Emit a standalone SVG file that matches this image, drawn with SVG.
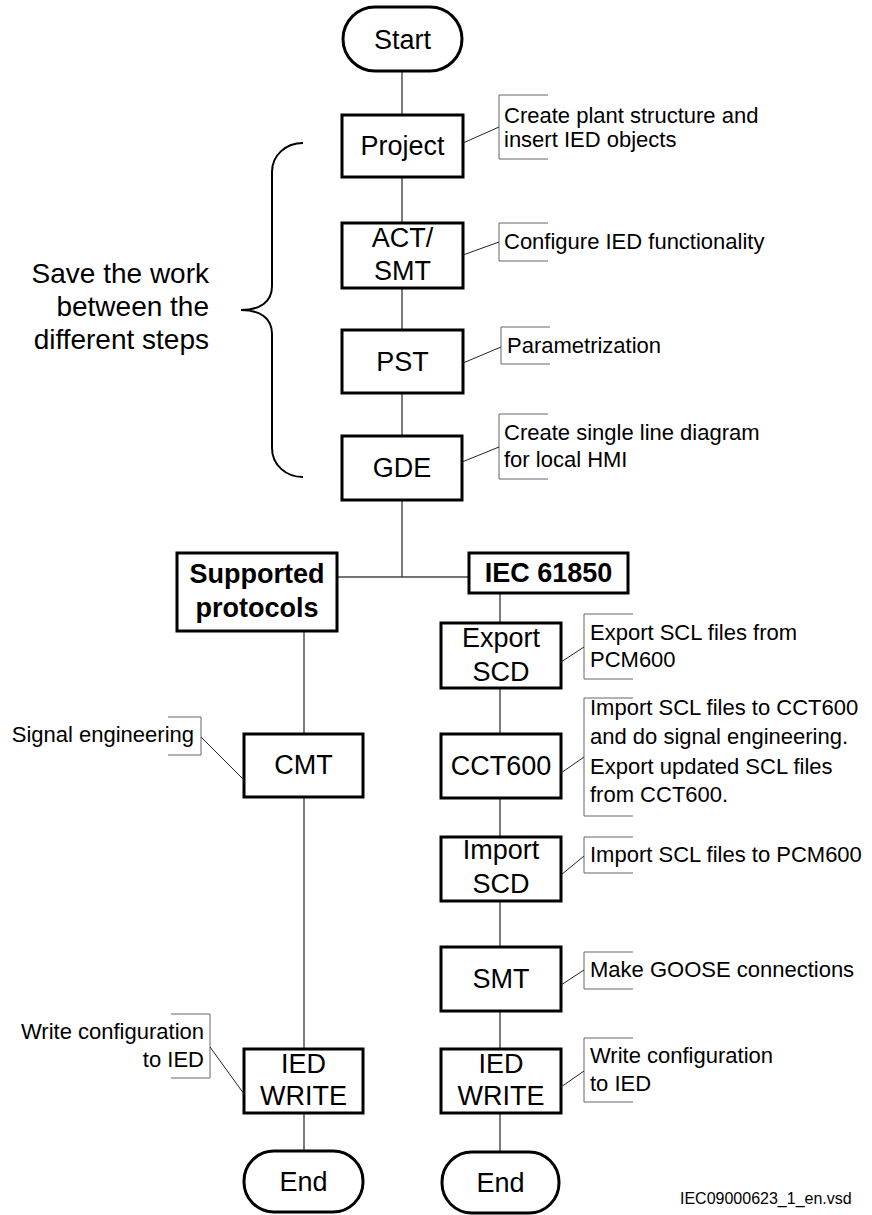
<svg xmlns="http://www.w3.org/2000/svg" width="872" height="1215" viewBox="0 0 872 1215">
<style>
.box{fill:#fff;stroke:#000;stroke-width:3}
.lbl{font-family:"Liberation Sans",Arial,sans-serif;font-size:27px;fill:#000;text-anchor:middle}
.bold{font-weight:bold}
.ann{font-family:"Liberation Sans",Arial,sans-serif;font-size:22px;fill:#000}
.conn{fill:none;stroke:#444;stroke-width:1.4}
.brk{fill:none;stroke:#666;stroke-width:1}
.lead{fill:none;stroke:#222;stroke-width:1}
.brace{fill:none;stroke:#000;stroke-width:2}
</style>
<rect width="872" height="1215" fill="#fff"/>
<g id="connectors">
<line class="conn" x1="402" y1="71" x2="402" y2="115"/>
<line class="conn" x1="402" y1="177" x2="402" y2="223"/>
<line class="conn" x1="402" y1="288" x2="402" y2="330"/>
<line class="conn" x1="402" y1="393" x2="402" y2="436"/>
<polyline class="conn" points="402,500 402,577"/>
<line class="conn" x1="337" y1="577" x2="469" y2="577"/>
<line class="conn" x1="304" y1="631" x2="304" y2="734"/>
<line class="conn" x1="304" y1="797" x2="304" y2="1049"/>
<line class="conn" x1="304" y1="1113" x2="304" y2="1151"/>
<line class="conn" x1="500" y1="593" x2="500" y2="623"/>
<line class="conn" x1="500" y1="688" x2="500" y2="734"/>
<line class="conn" x1="500" y1="798" x2="500" y2="837"/>
<line class="conn" x1="500" y1="901" x2="500" y2="947"/>
<line class="conn" x1="500" y1="1011" x2="500" y2="1049"/>
<line class="conn" x1="500" y1="1113" x2="500" y2="1152"/>
</g>
<g id="start">
<rect class="box" x="343" y="7" width="119" height="64" rx="32" ry="32"/>
<text class="lbl" x="402.5" y="49">Start</text>
</g>
<g id="project">
<rect class="box" x="342" y="115" width="121" height="62"/>
<text class="lbl" x="402.5" y="155">Project</text>
</g>
<g id="act-smt">
<rect class="box" x="342" y="223" width="121" height="65"/>
<text class="lbl" x="402.5" y="247">ACT/</text>
<text class="lbl" x="402.5" y="280">SMT</text>
</g>
<g id="pst">
<rect class="box" x="342" y="330" width="121" height="63"/>
<text class="lbl" x="402.5" y="371">PST</text>
</g>
<g id="gde">
<rect class="box" x="342" y="436" width="120" height="64"/>
<text class="lbl" x="402" y="477">GDE</text>
</g>
<g id="supported-protocols">
<rect class="box" x="177" y="553" width="160" height="78"/>
<text class="lbl bold" x="257" y="583">Supported</text>
<text class="lbl bold" x="257" y="617">protocols</text>
</g>
<g id="iec61850">
<rect class="box" x="469" y="553" width="159" height="40"/>
<text class="lbl bold" x="548.5" y="582">IEC 61850</text>
</g>
<g id="export-scd">
<rect class="box" x="441" y="623" width="120" height="65"/>
<text class="lbl" x="501" y="647">Export</text>
<text class="lbl" x="501" y="681">SCD</text>
</g>
<g id="cct600">
<rect class="box" x="441" y="734" width="120" height="64"/>
<text class="lbl" x="501" y="775">CCT600</text>
</g>
<g id="import-scd">
<rect class="box" x="441" y="837" width="120" height="64"/>
<text class="lbl" x="501" y="859">Import</text>
<text class="lbl" x="501" y="893">SCD</text>
</g>
<g id="smt">
<rect class="box" x="441" y="947" width="120" height="64"/>
<text class="lbl" x="501" y="988">SMT</text>
</g>
<g id="ied-write-right">
<rect class="box" x="441" y="1049" width="120" height="64"/>
<text class="lbl" x="501" y="1073">IED</text>
<text class="lbl" x="501" y="1105">WRITE</text>
</g>
<g id="end-right">
<rect class="box" x="442" y="1152" width="117" height="61" rx="30" ry="30"/>
<text class="lbl" x="500.5" y="1192">End</text>
</g>
<g id="cmt">
<rect class="box" x="244" y="734" width="119" height="63"/>
<text class="lbl" x="303.5" y="774">CMT</text>
</g>
<g id="ied-write-left">
<rect class="box" x="244" y="1049" width="119" height="64"/>
<text class="lbl" x="303.5" y="1073">IED</text>
<text class="lbl" x="303.5" y="1105">WRITE</text>
</g>
<g id="end-left">
<rect class="box" x="244" y="1151" width="119" height="61" rx="30" ry="30"/>
<text class="lbl" x="303.5" y="1191">End</text>
</g>
<g id="ann-project">
<path class="brk" d="M548,95 L499,95 L499,159 L548,159"/>
<line class="lead" x1="463" y1="143" x2="499" y2="127"/>
<text class="ann" x="504" y="123">Create plant structure and</text>
<text class="ann" x="504" y="147">insert IED objects</text>
</g>
<g id="ann-act">
<path class="brk" d="M548,223 L499,223 L499,261 L548,261"/>
<line class="lead" x1="463" y1="255" x2="499" y2="242"/>
<text class="ann" x="504" y="249">Configure IED functionality</text>
</g>
<g id="ann-pst">
<path class="brk" d="M550,327 L501,327 L501,364 L550,364"/>
<line class="lead" x1="463" y1="363" x2="501" y2="347"/>
<text class="ann" x="507" y="353">Parametrization</text>
</g>
<g id="ann-gde">
<path class="brk" d="M548,414 L499,414 L499,479 L548,479"/>
<line class="lead" x1="462" y1="462" x2="499" y2="447"/>
<text class="ann" x="504" y="440">Create single line diagram</text>
<text class="ann" x="504" y="467">for local HMI</text>
</g>
<g id="ann-export">
<path class="brk" d="M633,614 L584,614 L584,679 L633,679"/>
<line class="lead" x1="561" y1="662" x2="584" y2="647"/>
<text class="ann" x="590" y="640">Export SCL files from</text>
<text class="ann" x="590" y="667">PCM600</text>
</g>
<g id="ann-cct">
<path class="brk" d="M633,698 L584,698 L584,816 L633,816"/>
<line class="lead" x1="561" y1="773" x2="584" y2="757"/>
<text class="ann" x="590" y="715">Import SCL files to CCT600</text>
<text class="ann" x="590" y="744">and do signal engineering.</text>
<text class="ann" x="590" y="774">Export updated SCL files</text>
<text class="ann" x="590" y="802">from CCT600.</text>
</g>
<g id="ann-import">
<path class="brk" d="M633,837 L584,837 L584,873 L633,873"/>
<line class="lead" x1="561" y1="875" x2="584" y2="856"/>
<text class="ann" x="590" y="862">Import SCL files to PCM600</text>
</g>
<g id="ann-smt">
<path class="brk" d="M633,952 L584,952 L584,989 L633,989"/>
<line class="lead" x1="561" y1="985" x2="584" y2="970"/>
<text class="ann" x="590" y="977">Make GOOSE connections</text>
</g>
<g id="ann-write-right">
<path class="brk" d="M633,1038 L584,1038 L584,1102 L633,1102"/>
<line class="lead" x1="561" y1="1087" x2="584" y2="1071"/>
<text class="ann" x="590" y="1063">Write configuration</text>
<text class="ann" x="590" y="1091">to IED</text>
</g>
<g id="ann-cmt">
<path class="brk" d="M168,717 L201,717 L201,755 L168,755"/>
<line class="lead" x1="201" y1="737" x2="244" y2="780"/>
<text class="ann" x="194" y="742" text-anchor="end">Signal engineering</text>
</g>
<g id="ann-write-left">
<path class="brk" d="M171,1014 L210,1014 L210,1078 L171,1078"/>
<line class="lead" x1="210" y1="1047" x2="244" y2="1094"/>
<text class="ann" x="204" y="1039" text-anchor="end">Write configuration</text>
<text class="ann" x="204" y="1067" text-anchor="end">to IED</text>
</g>
<g id="save-note">
<path class="brace" d="M303,143 C286,143 272,155 272,172 L272,286 C272,302 260,310 241,310 C260,310 272,318 272,334 L272,448 C272,465 286,477 303,477"/>
<text class="lbl" style="text-anchor:end;font-size:28px" x="209" y="283">Save the work</text>
<text class="lbl" style="text-anchor:end;font-size:28px" x="209" y="316">between the</text>
<text class="lbl" style="text-anchor:end;font-size:28px" x="209" y="349">different steps</text>
</g>
<text x="680" y="1204" font-family="Liberation Sans, Arial, sans-serif" font-size="16" fill="#000">IEC09000623_1_en.vsd</text>
</svg>
